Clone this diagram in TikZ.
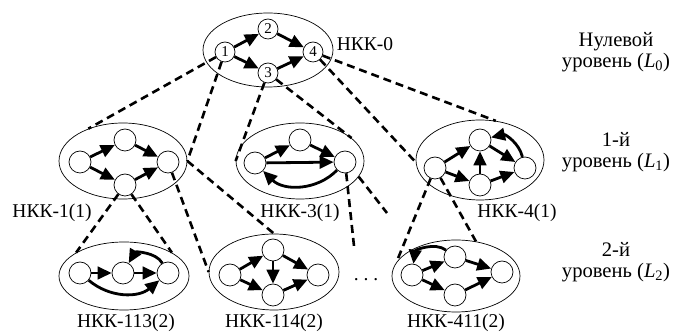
\documentclass[tikz,border=0pt]{standalone}
\usepackage{fontspec}
\setmainfont{Liberation Serif}
\usetikzlibrary{shapes.geometric,arrows.meta}
\begin{document}
\begin{tikzpicture}[x=1pt,y=1pt,
    vert/.style={draw, circle, line width=0.7pt, minimum size=22pt, inner sep=0pt, fill=white},
    grp/.style={draw, ellipse, line width=0.7pt, inner sep=0pt},
    arr/.style={-{Triangle[length=14pt,width=12.5pt]}, line width=2.8pt},
    link/.style={line width=2.6pt, dash pattern=on 8pt off 5pt},
    lbl/.style={font=\fontsize{19.5}{20.5}\selectfont},
    levtext/.style={align=center, font=\fontsize{20.6}{20.5}\selectfont}]
\useasboundingbox (0,0) rectangle (673,334);

% level 0
\node[grp, minimum width=130pt, minimum height=74pt] (E0) at (268,284) {};
\node[vert, minimum size=20pt, font=\fontsize{15}{15}\selectfont] (a1) at (225,282) {1};
\node[vert, minimum size=20pt, font=\fontsize{15}{15}\selectfont] (a2) at (268,305) {2};
\node[vert, minimum size=20pt, font=\fontsize{15}{15}\selectfont] (a3) at (268,261) {3};
\node[vert, minimum size=20pt, font=\fontsize{15}{15}\selectfont] (a4) at (313,282) {4};
\node[lbl] (t0) at (365,290) {НКК-0};
\draw[arr] (a1) -- (a2);
\draw[arr] (a2) -- (a4);
\draw[arr] (a1) -- (a3);
\draw[arr] (a3) -- (a4);

% level 1
\node[grp, minimum width=128pt, minimum height=76pt] (E1) at (123,173) {};
\node[vert] (b1) at (80,172) {};
\node[vert] (b2) at (125,194) {};
\node[vert] (b3) at (125,149) {};
\node[vert] (b4) at (168,172) {};
\node[lbl] (t1) at (52,121) {НКК-1(1)};
\draw[arr] (b1) -- (b2);
\draw[arr] (b2) -- (b4);
\draw[arr] (b1) -- (b3);
\draw[arr] (b3) -- (b4);

\node[grp, minimum width=128pt, minimum height=76pt] (E2) at (300,173) {};
\node[vert] (c1) at (255,171) {};
\node[vert] (c2) at (300,194) {};
\node[vert] (c3) at (345,172) {};
\node[lbl] (t3) at (300,121) {НКК-3(1)};
\draw[arr] (c1) -- (c2);
\draw[arr] (c2) -- (c3);
\draw[arr] (c1) -- (c3);
\draw[arr] (c3) to[bend left=45] (c1);

\node[grp, minimum width=128pt, minimum height=80pt] (E3) at (480,174) {};
\node[vert] (d1) at (435,166) {};
\node[vert] (d2) at (480,194) {};
\node[vert] (d3) at (525,166) {};
\node[vert] (d4) at (480,149) {};
\node[lbl] (t4) at (517,121) {НКК-4(1)};
\draw[arr] (d1) -- (d2);
\draw[arr] (d2) -- (d3);
\draw[arr] (d3) to[bend right=45] (d2);
\draw[arr] (d4) -- (d2);
\draw[arr] (d1) -- (d4);
\draw[arr] (d4) -- (d3);

% level 2
\node[grp, minimum width=130pt, minimum height=68pt] (F1) at (124,58) {};
\node[vert] (e1) at (80,61) {};
\node[vert] (e2) at (123,61) {};
\node[vert] (e3) at (168,61) {};
\node[lbl] (t113) at (126,11) {НКК-113(2)};
\draw[arr] (e1) -- (e2);
\draw[arr] (e2) -- (e3);
\draw[arr] (e3) to[bend right=60] (e2);
\draw[arr] (e1) to[bend right=40] (e3);

\node[grp, minimum width=130pt, minimum height=76pt] (F2) at (274,62) {};
\node[vert] (f1) at (230,59) {};
\node[vert] (f2) at (273,84) {};
\node[vert] (f3) at (318,59) {};
\node[vert] (f4) at (273,39) {};
\node[lbl] (t114) at (274,11) {НКК-114(2)};
\draw[arr] (f1) -- (f2);
\draw[arr] (f2) -- (f3);
\draw[arr] (f2) -- (f4);
\draw[arr] (f1) -- (f4);
\draw[arr] (f4) -- (f3);

\node[lbl, anchor=base] (dots) at (366,53) {.~.~.};

\node[grp, minimum width=128pt, minimum height=72pt] (F3) at (456,58) {};
\node[vert] (g1) at (412,59) {};
\node[vert] (g2) at (455,77) {};
\node[vert] (g3) at (502,62) {};
\node[vert] (g4) at (455,39) {};
\node[lbl] (t411) at (456,11) {НКК-411(2)};
\draw[arr] (g1) -- (g2);
\draw[arr] (g2) to[bend right=60] (g1);
\draw[arr] (g2) -- (g3);
\draw[arr] (g1) -- (g4);
\draw[arr] (g4) -- (g3);

% links between levels
\coordinate (q1) at (387,121);
\coordinate (q2) at (354,88);
\draw[link] (a1) -- (E1.137);
\draw[link] (a1) -- (E1.east);
\draw[link] (a3) -- (E2.west);
\draw[link] (a3) -- (E2.24);
\draw[link] (a4) -- (E3.68);
\draw[link] (a4) -- (E3.182);
\draw[link] (b3) -- (F1.154);
\draw[link] (b3) -- (F1.26);
\draw[link] (E1.east) -- (F2.north);
\draw[link] (b4) -- (F2.west);
\draw[link] (E2.-15) -- (q1);
\draw[link] (c3) -- (q2);
\draw[link] (d1) -- (F3.167);
\draw[link] (d1) -- (F3.60);

% level names
\node[levtext] (lev0) at (616,282) {Нулевой\\уровень (\textit{L}\textsubscript{0})};
\node[levtext] (lev1) at (616,182) {1-й\\уровень (\textit{L}\textsubscript{1})};
\node[levtext] (lev2) at (616,72) {2-й\\уровень (\textit{L}\textsubscript{2})};
\end{tikzpicture}
\end{document}
